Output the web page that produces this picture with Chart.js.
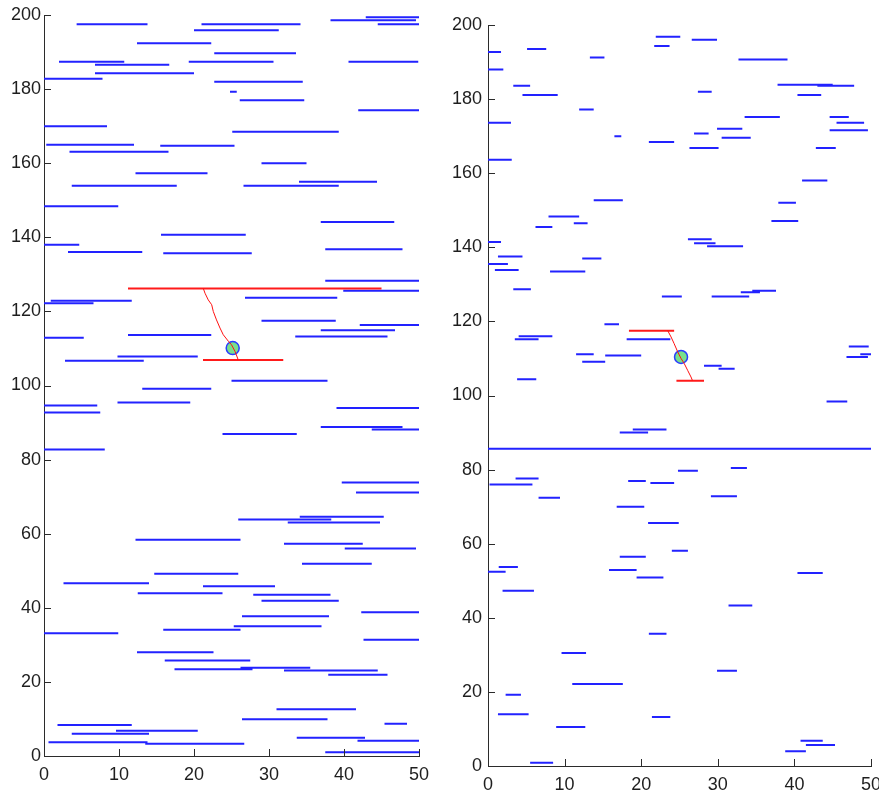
<!DOCTYPE html>
<html>
<head>
<meta charset="utf-8">
<script src="https://cdn.jsdelivr.net/npm/chart.js@4.4.1/dist/chart.umd.min.js"></script>
<style>
  html, body { margin: 0; padding: 0; background: #fff; }
  #wrap { position: relative; width: 879px; height: 792px; }
  canvas { position: absolute; top: 0; }
  #left-chart { left: 0; }
  #right-chart { left: 440px; }
</style>
</head>
<body>
<div id="wrap">
  <canvas id="left-chart" width="440" height="792"></canvas>
  <canvas id="right-chart" width="439" height="792"></canvas>
</div>
<script>
// tick values (both panels)
const xTicks = [0, 10, 20, 30, 40, 50];
const yTicks = [0, 20, 40, 60, 80, 100, 120, 140, 160, 180, 200];

// left panel: blue segments (start, end, level)
const leftStart = [4.35, 21.0, 20.0, 38.2, 42.9, 44.5, 12.4, 22.7, 2.0, 6.8, 19.3, 40.6, 6.8, 0, 22.7, 24.8, 26.1, 41.9, 0, 25.1,
  0.3, 15.5, 3.4, 29.0, 12.2, 34.0, 3.7, 26.6,
  0, 36.9, 15.6, 0, 3.2, 15.9, 37.5, 37.5, 39.9, 0.9, 0, 26.8, 29.0, 42.1, 36.9, 33.5, 0, 11.2, 9.8, 2.8, 25.0, 13.1,
  0, 0, 9.8, 39.0, 36.9, 43.7, 23.8, 0, 39.7, 41.6, 25.9, 34.1, 32.5, 12.2, 32.0, 40.1, 34.4, 14.7,
  2.6, 21.2, 12.5, 27.9, 29.0, 42.3, 26.4, 0, 15.9, 25.3, 42.6, 12.4, 16.1, 17.4, 26.2, 32.0, 37.9, 31.0, 26.4, 45.4,
  1.8, 9.6, 3.7, 0.6, 13.5, 33.7, 41.8, 37.5];
const leftEnd = [13.8, 34.2, 31.3, 49.6, 50, 50, 22.3, 33.6, 10.7, 16.7, 30.6, 49.9, 20.0, 7.8, 34.5, 25.7, 34.7, 50, 8.4, 39.3,
  12.0, 25.4, 16.6, 35.0, 21.8, 44.4, 17.7, 39.3,
  9.9, 46.7, 26.9, 4.7, 13.1, 27.7, 47.8, 50, 50, 11.7, 6.6, 39.1, 38.9, 50, 46.8, 45.8, 5.3, 22.3, 20.5, 13.3, 37.8, 22.3,
  7.1, 7.5, 19.5, 50, 47.8, 50, 33.7, 8.1, 50, 50, 38.3, 45.3, 44.8, 26.2, 42.5, 49.6, 43.7, 25.9,
  14.0, 30.8, 23.8, 38.2, 39.3, 50, 38.0, 9.9, 26.2, 37.0, 50, 22.6, 27.5, 27.8, 35.5, 44.5, 45.8, 41.6, 37.8, 48.4,
  11.7, 20.5, 14.0, 13.8, 26.7, 42.8, 50, 50];
const leftLevel = [197.5, 197.5, 195.9, 198.6, 199.4, 197.5, 192.4, 189.7, 187.4, 186.6, 187.4, 187.4, 184.3, 182.8, 182.0, 179.3, 177.0, 174.3, 170.0, 168.5,
  165.0, 164.7, 163.1, 160.0, 157.3, 155.0, 153.9, 153.9,
  148.4, 144.1, 140.7, 138.0, 136.0, 135.7, 136.8, 128.3, 125.6, 122.9, 122.2, 123.7, 117.5, 116.3, 114.9, 113.2, 112.9, 113.6, 107.8, 106.7, 101.3, 99.1,
  94.6, 92.7, 95.4, 93.9, 88.8, 88.1, 86.9, 82.7, 73.8, 71.1, 63.8, 64.6, 63.0, 58.4, 57.3, 56.0, 51.9, 49.2,
  46.6, 45.8, 43.9, 43.5, 41.9, 38.8, 37.7, 33.1, 34.1, 35.0, 31.4, 28.0, 25.8, 23.4, 23.8, 23.1, 21.9, 12.6, 9.9, 8.7,
  8.4, 6.8, 6.0, 3.7, 3.3, 4.9, 4.1, 1.0];

// left panel: red lines, red path and marker
const leftRedStart = [11.2, 21.2];
const leftRedEnd = [45.0, 31.9];
const leftRedLevel = [126.2, 106.9];
const leftPathX = [21.24, 21.47, 21.9, 22.36, 22.57, 23.0, 23.47, 23.9, 24.6, 25.0, 25.47, 25.9];
const leftPathY = [126.2, 124.9, 123.1, 121.8, 120.0, 117.7, 115.5, 113.7, 111.9, 111.0, 109.2, 106.9];
const leftMarker = [25.16, 110.1];

// right panel: blue segments
const rightStart = [0, 0, 5.1, 3.3, 4.5, 0, 0, 13.3, 11.9, 16.5, 13.8, 21.9, 21.7, 26.6, 21.0, 27.4, 26.9, 26.3, 29.9, 30.5,
  32.7, 33.5, 37.8, 43.0, 40.4, 44.6, 45.5, 44.6, 42.8, 41.0, 37.9,
  7.9, 6.2, 11.2, 0, 1.3, 0, 0.9, 12.3, 8.1, 3.3, 26.1, 26.9, 28.6, 37.0, 22.7, 29.2, 33.0, 34.5, 15.2, 18.1,
  4.0, 3.5, 11.5, 15.3, 12.3, 3.8, 28.2, 30.1, 47.1, 46.8, 48.6,
  44.2, 17.2, 18.9, 0, 24.8, 31.7, 18.3, 21.2, 3.6, 0.2, 6.6, 29.1, 16.8, 20.9, 24.0, 17.2, 1.4, 0, 15.8, 19.4, 40.4,
  1.9, 31.4, 21.0, 9.6, 29.9, 11.0, 2.3, 1.3, 21.4, 8.9, 40.8, 41.5, 38.8, 5.5];
const rightEnd = [1.7, 2.0, 7.6, 5.5, 9.1, 3.0, 3.1, 15.2, 13.8, 17.4, 17.6, 25.1, 23.7, 29.9, 24.3, 29.2, 28.8, 30.1, 33.2, 34.3,
  39.1, 38.1, 45.0, 47.8, 43.5, 47.1, 49.1, 49.6, 45.4, 44.3, 40.2,
  11.9, 8.4, 13.0, 1.7, 4.5, 2.6, 4.0, 14.8, 12.7, 5.6, 29.2, 29.7, 33.3, 40.5, 25.3, 34.1, 35.5, 37.6, 17.1, 23.8,
  8.4, 6.6, 13.8, 20.0, 15.3, 6.3, 30.5, 32.2, 49.7, 49.6, 50,
  46.9, 20.9, 23.3, 50, 27.4, 33.8, 20.6, 24.3, 6.6, 5.8, 9.4, 32.5, 20.4, 24.9, 26.1, 20.6, 3.9, 2.3, 19.4, 22.9, 43.7,
  6.0, 34.5, 23.3, 12.8, 32.5, 17.6, 4.3, 5.3, 23.8, 12.7, 43.7, 45.3, 41.5, 8.5];
const rightLevel = [192.7, 188.0, 193.5, 183.6, 181.1, 173.6, 163.6, 191.2, 177.2, 170.0, 152.7, 196.8, 194.3, 196.0, 168.4, 182.0, 170.7, 166.8, 172.0, 169.6,
  190.7, 175.2, 183.9, 183.6, 181.1, 175.2, 173.6, 171.6, 166.8, 158.0, 152.0,
  148.3, 145.5, 146.5, 141.4, 137.5, 135.5, 133.9, 137.0, 133.5, 128.7, 142.2, 141.1, 140.3, 147.1, 126.7, 126.7, 127.9, 128.3, 119.2, 115.2,
  116.0, 115.2, 111.1, 110.8, 109.1, 104.4, 108.0, 107.2, 113.2, 110.4, 111.1,
  98.4, 90.0, 90.8, 85.6, 79.7, 80.4, 76.9, 76.4, 77.6, 76.0, 72.4, 72.8, 70.0, 65.6, 58.1, 56.5, 53.7, 52.4, 52.9, 50.9, 52.1,
  47.3, 43.3, 35.7, 30.5, 25.7, 22.1, 19.2, 14.0, 13.2, 10.5, 6.8, 5.7, 4.0, 0.9];

// right panel: red lines, red path and marker
const rightRedStart = [18.4, 24.6];
const rightRedEnd = [24.3, 28.2];
const rightRedLevel = [117.5, 104.0];
const rightPathX = [23.46, 23.9, 24.3, 24.76, 25.2, 25.6, 26.06, 26.5, 26.7];
const rightPathY = [117.5, 115.8, 114.0, 111.8, 110.0, 108.7, 106.8, 105.0, 104.0];
const rightMarker = [25.2, 110.4];

const axisColor = "#2b2b2b";
const fontFamily = "'Liberation Sans Narrow', 'Liberation Sans', Arial, sans-serif";

// horizontal segments with gaps between them
function segmentPoints(starts, ends, levels) {
    const pts = [];
    starts.forEach((s, i) => {
        pts.push({ x: s, y: levels[i] });
        pts.push({ x: ends[i], y: levels[i] });
        pts.push({ x: ends[i], y: null });
    });
    return pts;
}

// MATLAB-like ticks pointing into the plot
const innerTicks = {
    id: "innerTicks",
    afterDraw(chart) {
        const { ctx, chartArea, scales } = chart;
        ctx.save();
        ctx.strokeStyle = axisColor;
        ctx.lineWidth = 1;
        ctx.beginPath();
        xTicks.forEach(v => {
            const px = Math.round(scales.x.getPixelForValue(v)) + 0.5;
            ctx.moveTo(px, chartArea.bottom);
            ctx.lineTo(px, chartArea.bottom - 7);
        });
        yTicks.forEach(v => {
            const py = Math.round(scales.y.getPixelForValue(v)) + 0.5;
            ctx.moveTo(chartArea.left, py);
            ctx.lineTo(chartArea.left + 7, py);
        });
        ctx.stroke();
        ctx.restore();
    }
};

function makePanel(canvasId, cfg) {
    const ctx = document.getElementById(canvasId).getContext("2d");
    return new Chart(ctx, {
        type: "scatter",
        data: {
            datasets: [
                {
                    label: "path",
                    data: cfg.pathX.map((x, i) => ({ x, y: cfg.pathY[i] })),
                    showLine: true,
                    borderColor: "#ff1010",
                    borderWidth: 1,
                    pointRadius: 0,
                    order: 0,
                },
                {
                    label: "marker",
                    data: [{ x: cfg.marker[0], y: cfg.marker[1] }],
                    pointRadius: 6.5,
                    backgroundColor: "#78e08c",
                    borderColor: "#2a3cff",
                    borderWidth: 1.5,
                    order: 1,
                },
                {
                    label: "red",
                    data: segmentPoints(cfg.redStart, cfg.redEnd, cfg.redLevel),
                    showLine: true,
                    borderColor: "#ff1a1a",
                    borderWidth: 2,
                    pointRadius: 0,
                    order: 2,
                },
                {
                    label: "blue",
                    data: segmentPoints(cfg.start, cfg.end, cfg.level),
                    showLine: true,
                    borderColor: "#2222ff",
                    borderWidth: 2,
                    pointRadius: 0,
                    order: 3,
                },
            ],
        },
        options: {
            responsive: false,
            animation: false,
            events: [],
            layout: { padding: { top: cfg.top, right: cfg.right, left: 0, bottom: 0 } },
            plugins: {
                legend: { display: false },
                tooltip: { enabled: false },
            },
            scales: {
                x: {
                    type: "linear",
                    min: 0,
                    max: 50,
                    afterBuildTicks: s => { s.ticks = xTicks.map(v => ({ value: v })); },
                    afterFit: s => { s.height = cfg.bottom; s.paddingLeft = 0; s.paddingRight = 0; },
                    grid: { display: false, drawTicks: false },
                    border: { display: true, color: axisColor, width: 1 },
                    ticks: { color: "#1e1e1e", padding: 8, maxRotation: 0, font: { family: fontFamily, size: 18 } },
                },
                y: {
                    type: "linear",
                    min: 0,
                    max: 200,
                    afterBuildTicks: s => { s.ticks = yTicks.map(v => ({ value: v })); },
                    afterFit: s => { s.width = cfg.left; s.paddingTop = 0; s.paddingBottom = 0; },
                    grid: { display: false, drawTicks: false },
                    border: { display: true, color: axisColor, width: 1 },
                    ticks: { color: "#1e1e1e", padding: cfg.labelGap, font: { family: fontFamily, size: 18 } },
                },
            },
        },
        plugins: [innerTicks],
    });
}

makePanel("left-chart", {
    start: leftStart, end: leftEnd, level: leftLevel,
    redStart: leftRedStart, redEnd: leftRedEnd, redLevel: leftRedLevel,
    pathX: leftPathX, pathY: leftPathY, marker: leftMarker,
    left: 44, right: 21, top: 15, bottom: 36, labelGap: 3,
});

makePanel("right-chart", {
    start: rightStart, end: rightEnd, level: rightLevel,
    redStart: rightRedStart, redEnd: rightRedEnd, redLevel: rightRedLevel,
    pathX: rightPathX, pathY: rightPathY, marker: rightMarker,
    left: 48, right: 7, top: 25, bottom: 26, labelGap: 6,
});
</script>
</body>
</html>
